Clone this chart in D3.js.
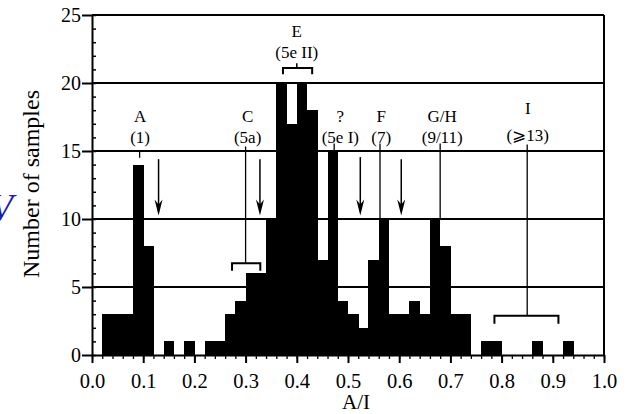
<!DOCTYPE html>
<html>
<head>
<meta charset="utf-8">
<script src="https://d3js.org/d3.v7.min.js"></script>
<style>
  body { margin: 0; background: #fff; }
  svg text { font-family: "Liberation Serif", "Times New Roman", serif; fill: #000; }
</style>
</head>
<body>
<div id="chart"></div>
<script>
// histogram of A/I, bins of 0.02 starting at 0
var binWidth = 0.02;
var counts = [0, 3, 3, 3, 14, 8, 0, 1, 0, 1,
              0, 1, 1, 3, 4, 6, 6, 10, 20, 17,
              20, 18, 7, 15, 4, 3, 2, 7, 10, 3,
              3, 4, 3, 10, 8, 3, 3, 0, 1, 1,
              0, 0, 0, 1, 0, 0, 1, 0, 0, 0];

var xTicks = [0, 0.1, 0.2, 0.3, 0.4, 0.5, 0.6, 0.7, 0.8, 0.9, 1.0];
var yTicks = [0, 5, 10, 15, 20, 25];
var gridValues = [5, 10, 15, 20, 25];

// peak labels (A/I position, count position)
var annLetters = ["A", "C", "E", "?", "F", "G/H", "I"];
var annCodes = ["(1)", "(5a)", "(5e II)", "(5e I)", "(7)", "(9/11)", "(\u2A7E13)"];
var annLabelX = [0.094, 0.304, 0.400, 0.485, 0.565, 0.684, 0.851];
var annLetterY = [17.1, 17.1, 23.4, 17.1, 17.1, 17.1, 17.75];
var annCodeY = [15.6, 15.6, 21.85, 15.6, 15.6, 15.6, 15.75];
// leader lines: x, top, bottom
var leadX = [0.093, 0.300, 0.473, 0.5625, 0.680, 0.850];
var leadTop = [15.05, 15.33, 15.55, 15.55, 15.55, 15.48];
var leadBottom = [14.5, 6.74, 15.0, 10.0, 10.0, 2.89];
// brackets: x0, x1, y, leg end
var brackX0 = [0.2735, 0.373, 0.786];
var brackX1 = [0.3287, 0.430, 0.911];
var brackY = [6.74, 21.1, 2.89];
var brackLeg = [6.2, 20.65, 2.3];
// arrows
var arrowX = [0.130, 0.328, 0.524, 0.604];
var arrowTop = [14.4, 14.4, 14.55, 14.4];
var arrowTip = [10.25, 10.25, 10.25, 10.25];

var width = 631, height = 414;
var margin = {top: 15, right: 27, bottom: 59, left: 92};
var serif = '"Liberation Serif", "Times New Roman", serif';

var svg = d3.select("#chart").append("svg")
  .attr("width", width)
  .attr("height", height);

var x = d3.scaleLinear().domain([0, 1]).range([margin.left, width - margin.right]);
var y = d3.scaleLinear().domain([0, 25]).range([height - margin.bottom, margin.top]);

// grid lines
svg.selectAll("line.grid")
  .data(gridValues)
  .enter().append("line")
    .attr("class", "grid")
    .attr("x1", x(0)).attr("x2", x(1))
    .attr("y1", function(d) { return y(d); })
    .attr("y2", function(d) { return y(d); })
    .attr("stroke", "#000")
    .attr("stroke-width", 2);

// bars
svg.selectAll("rect.bar")
  .data(counts)
  .enter().append("rect")
    .attr("class", "bar")
    .attr("x", function(d, i) { return x(i * binWidth); })
    .attr("width", x(binWidth) - x(0) + 0.3)
    .attr("y", function(d) { return y(d); })
    .attr("height", function(d) { return y(0) - y(d); })
    .attr("fill", "#000")
    .attr("shape-rendering", "crispEdges");

// right border
svg.append("line")
  .attr("x1", x(1)).attr("x2", x(1))
  .attr("y1", y(0)).attr("y2", y(25))
  .attr("stroke", "#000").attr("stroke-width", 2);

// x axis
var xMinor = svg.append("g")
  .attr("transform", "translate(0," + y(0) + ")")
  .call(d3.axisBottom(x).tickValues(d3.range(0, 51).map(function(i) { return i * 0.02; }))
    .tickSize(4).tickFormat(""));
xMinor.select(".domain").remove();
xMinor.selectAll("line").attr("stroke-width", 1.3);

var xAxis = svg.append("g")
  .attr("transform", "translate(0," + y(0) + ")")
  .call(d3.axisBottom(x).tickValues(xTicks).tickFormat(d3.format(".1f"))
    .tickSizeInner(8).tickSizeOuter(0).tickPadding(10));
xAxis.attr("font-family", null).style("font-family", serif);
xAxis.select(".domain").attr("stroke-width", 2);
xAxis.selectAll("line").attr("stroke-width", 2);
xAxis.selectAll("text").style("font-family", serif).style("font-size", "20.5px");

// y axis
var yMinor = svg.append("g")
  .attr("transform", "translate(" + x(0) + ",0)")
  .call(d3.axisRight(y).ticks(25).tickSize(4).tickFormat(""));
yMinor.select(".domain").remove();
yMinor.selectAll("line").attr("stroke-width", 1.5);

var yAxis = svg.append("g")
  .attr("transform", "translate(" + x(0) + ",0)")
  .call(d3.axisLeft(y).tickValues(yTicks).tickSizeInner(10).tickSizeOuter(0).tickPadding(1));
yAxis.attr("font-family", null).style("font-family", serif);
yAxis.select(".domain").attr("stroke-width", 2);
yAxis.selectAll("line").attr("stroke-width", 2);
yAxis.selectAll("text").style("font-family", serif).style("font-size", "20px");

// axis titles
svg.append("text")
  .attr("x", 356).attr("y", 408.5)
  .attr("text-anchor", "middle")
  .attr("font-size", "21px")
  .text("A/I");

svg.append("text")
  .attr("transform", "translate(39," + 184 + ") rotate(-90)")
  .attr("text-anchor", "middle")
  .attr("font-size", "24px")
  .text("Number of samples");

// stray blue glyph at the left edge
svg.append("text")
  .attr("x", 13).attr("y", 220)
  .attr("text-anchor", "end")
  .attr("font-size", "38px")
  .attr("font-style", "italic")
  .style("fill", "#1c1cb0")
  .text("V");

// peak labels
var ann = svg.append("g").attr("font-size", "17px").attr("text-anchor", "middle");
annLetters.forEach(function(t, i) {
  ann.append("text").attr("x", x(annLabelX[i])).attr("y", y(annLetterY[i])).text(t);
  ann.append("text").attr("x", x(annLabelX[i])).attr("y", y(annCodeY[i])).text(annCodes[i]);
});

// leader lines
leadX.forEach(function(v, i) {
  svg.append("line")
    .attr("x1", x(v)).attr("x2", x(v))
    .attr("y1", y(leadTop[i])).attr("y2", y(leadBottom[i]))
    .attr("stroke", "#000").attr("stroke-width", 1.3);
});

// brackets
brackX0.forEach(function(v, i) {
  svg.append("path")
    .attr("d", "M" + x(v) + "," + y(brackLeg[i]) +
               "V" + y(brackY[i]) +
               "H" + x(brackX1[i]) +
               "V" + y(brackLeg[i]))
    .attr("fill", "none").attr("stroke", "#000").attr("stroke-width", 2);
});
// small tick on top of the E bracket
svg.append("line")
  .attr("x1", x(0.4)).attr("x2", x(0.4))
  .attr("y1", y(21.1)).attr("y2", y(21.45))
  .attr("stroke", "#000").attr("stroke-width", 1.5);

// arrows
arrowX.forEach(function(v, i) {
  var ax = x(v), tip = y(arrowTip[i]);
  svg.append("line")
    .attr("x1", ax).attr("x2", ax)
    .attr("y1", y(arrowTop[i])).attr("y2", tip - 4)
    .attr("stroke", "#000").attr("stroke-width", 1.5);
  svg.append("path")
    .attr("d", "M" + (ax - 4) + "," + (tip - 16) + "L" + ax + "," + tip + "L" + (ax + 4) + "," + (tip - 16) +
               "L" + ax + "," + (tip - 11) + "Z")
    .attr("fill", "#000");
});
</script>
</body>
</html>
